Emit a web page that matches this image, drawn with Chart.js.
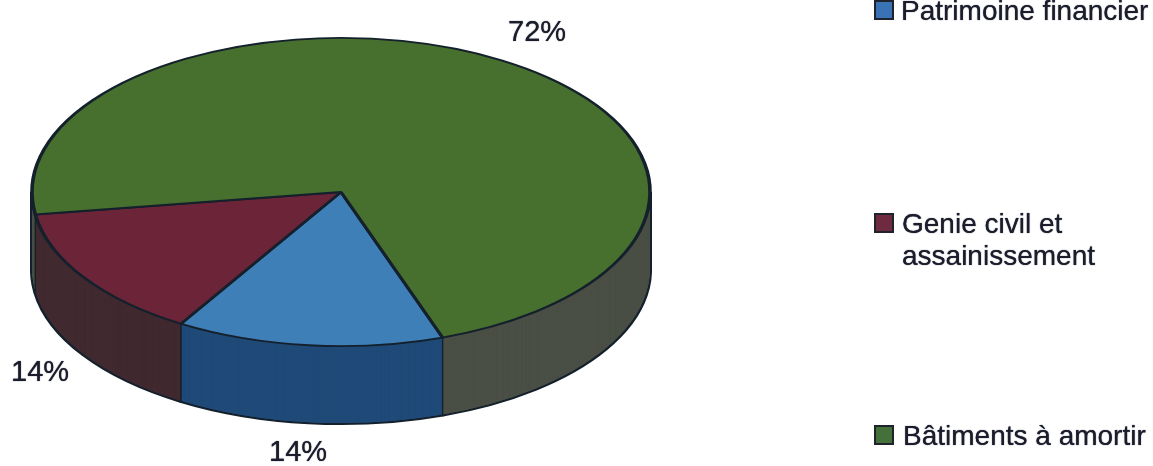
<!DOCTYPE html>
<html>
<head>
<meta charset="utf-8">
<title>Repartition</title>
<style>
  html, body { margin: 0; padding: 0; background: #fff; }
  canvas { display: block; }
</style>
<script src="https://cdn.jsdelivr.net/npm/chart.js@4/dist/chart.umd.min.js"></script>
</head>
<body>
<canvas id="myChart" width="1153" height="466"></canvas>
<script>
// data
var categories = ['Patrimoine financier', 'Genie civil et assainissement', 'Bâtiments à amortir'];
var legendLines = [['Patrimoine financier'], ['Genie civil et', 'assainissement'], ['Bâtiments à amortir']];
var values = [14, 14, 72];

var topColors = ['#3f7fb8', '#6c2439', '#47702f'];
var sideColors = ['#1f4a78', '#412930', '#4a4f45'];
var swatchColors = ['#3a72b6', '#6e2a3f', '#44703a'];
var lineColor = '#14202b';
var textColor = '#1b1d2c';

// the pie is squashed into an ellipse, this is the wanted horizontal radius and rim height
var radiusX = 309;
var depth = 78;

function squash(ctx, arc) {
    ctx.translate(arc.x, arc.y);
    ctx.scale(radiusX / arc.outerRadius, 1);
    ctx.translate(-arc.x, -arc.y);
}

function drawWith(arc, ctx, color, width) {
    var saved = arc.options;
    var opts = Object.create(saved);
    opts.backgroundColor = color;
    opts.borderWidth = width;
    opts.borderColor = lineColor;
    arc.options = opts;
    arc.draw(ctx);
    arc.options = saved;
}

function rimLine(ctx, arc, angle) {
    var x = arc.x + Math.cos(angle) * arc.outerRadius;
    var y = arc.y + Math.sin(angle) * arc.outerRadius;
    ctx.beginPath();
    ctx.moveTo(x, y);
    ctx.lineTo(x, y + depth);
    ctx.stroke();
}

var pie3d = {
    id: 'pie3d',
    beforeDatasetsDraw: function (chart) {
        var ctx = chart.ctx;
        var arcs = chart.getDatasetMeta(0).data;
        ctx.save();
        squash(ctx, arcs[0]);

        // both ends of the rim go first so the fill below hides their inner half
        ctx.strokeStyle = lineColor;
        ctx.lineWidth = 2;
        rimLine(ctx, arcs[0], 0);
        rimLine(ctx, arcs[0], Math.PI);

        // rim: same arcs stacked downwards, deepest first
        ctx.save();
        ctx.translate(0, depth);
        arcs.forEach(function (arc, i) { drawWith(arc, ctx, sideColors[i], 2); });
        ctx.restore();
        for (var d = depth - 1; d > 0; d--) {
            ctx.save();
            ctx.translate(0, d);
            arcs.forEach(function (arc, i) { drawWith(arc, ctx, sideColors[i], 0); });
            ctx.restore();
        }

        // vertical edges between the slices
        ctx.strokeStyle = lineColor;
        ctx.lineWidth = 0.7;
        arcs.forEach(function (arc) {
            if (Math.sin(arc.startAngle) > 0) rimLine(ctx, arc, arc.startAngle);
        });
    },
    afterDatasetsDraw: function (chart) {
        chart.ctx.restore();
    },
    afterDraw: function (chart) {
        var ctx = chart.ctx;
        ctx.save();
        ctx.fillStyle = textColor;
        ctx.textBaseline = 'alphabetic';
        ctx.shadowColor = textColor;
        ctx.shadowBlur = 1;
        ctx.font = '29px "Liberation Sans"';

        // percent labels
        ctx.fillText(values[2] + '%', 508, 41);
        ctx.fillText(values[1] + '%', 11, 381);
        ctx.fillText(values[0] + '%', 269, 461);

        // legend
        ctx.font = '28px "Liberation Sans"';
        var baselines = [20, 233, 445];
        var textX = [901, 902, 903];
        legendLines.forEach(function (lines, i) {
            var y = baselines[i];
            ctx.shadowBlur = 0;
            ctx.fillStyle = swatchColors[i];
            ctx.fillRect(875, y - 19, 18, 18);
            ctx.strokeStyle = '#20222c';
            ctx.lineWidth = 2;
            ctx.strokeRect(875, y - 19, 18, 18);
            ctx.shadowBlur = 1;
            ctx.fillStyle = textColor;
            lines.forEach(function (line, j) {
                ctx.fillText(line, textX[i], y + j * 32);
            });
        });
        ctx.restore();
    }
};

var ctx = document.getElementById('myChart');
var chart = new Chart(ctx, {
    type: 'pie',
    data: {
        labels: categories,
        datasets: [{
            data: values,
            backgroundColor: topColors,
            borderColor: lineColor,
            borderWidth: 1.8,
            clip: false
        }]
    },
    options: {
        responsive: false,
        animation: false,
        events: [],
        rotation: 160.8,
        layout: { padding: { left: 32, right: 503, top: 37, bottom: 119 } },
        plugins: { legend: { display: false }, tooltip: { enabled: false } }
    },
    plugins: [pie3d]
});
</script>
</body>
</html>
